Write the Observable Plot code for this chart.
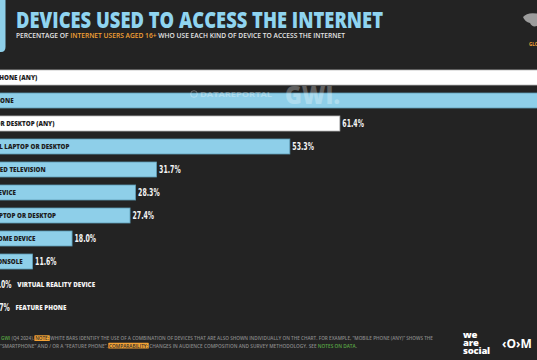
<!DOCTYPE html>
<html><head><meta charset="utf-8">
<script src="https://cdn.jsdelivr.net/npm/d3@7"></script>
<script src="https://cdn.jsdelivr.net/npm/@observablehq/plot@0.6"></script>
<style>
html,body{margin:0;padding:0;background:#232323;overflow:hidden}
#root{position:relative;width:537px;height:360px;overflow:hidden;background:#232323;font-family:"Open Sans",sans-serif}
#chart{position:absolute;left:0;top:60px;width:537px;height:260px;overflow:hidden}
#overlay{position:absolute;left:0;top:0;pointer-events:none}
</style></head>
<body><div id="root"><div id="chart"></div><svg id="overlay" width="537" height="360" xmlns="http://www.w3.org/2000/svg"></svg></div>
<script>
// ---- data ----
const categories = [
  "MOBILE PHONE (ANY)",
  "SMARTPHONE",
  "LAPTOP OR DESKTOP (ANY)",
  "PERSONAL LAPTOP OR DESKTOP",
  "CONNECTED TELEVISION",
  "TABLET DEVICE",
  "WORK LAPTOP OR DESKTOP",
  "SMART HOME DEVICE",
  "GAMES CONSOLE",
  "VIRTUAL REALITY DEVICE",
  "FEATURE PHONE"
];
const values = [96.3, 95.9, 61.4, 53.3, 31.7, 28.3, 27.4, 18.0, 11.6, 5.0, 4.7];
const barKinds = ["any", "single", "any", "single", "single", "single", "single", "single", "single", "single", "single"];

const title = "DEVICES USED TO ACCESS THE INTERNET";
const subtitleParts = ["PERCENTAGE OF ", "INTERNET USERS AGED 16+", " WHO USE EACH KIND OF DEVICE TO ACCESS THE INTERNET"];
const footLine1 = ["GWI", " (Q4 2024). ", "NOTE:", " WHITE BARS IDENTIFY THE USE OF A COMBINATION OF DEVICES THAT ARE ALSO SHOWN INDIVIDUALLY ON THE CHART. FOR EXAMPLE, \u201CMOBILE PHONE (ANY)\u201D SHOWS THE"];
const footLine2 = ["\u201CSMARTPHONE\u201D AND / OR A \u201CFEATURE PHONE\u201D. ", "COMPARABILITY:", " CHANGES IN AUDIENCE COMPOSITION AND SURVEY METHODOLOGY. SEE ", "NOTES ON DATA", "."];

const data = categories.map((c, i) => ({category: c, value: values[i], kind: barKinds[i]}));

const BLUE = "#8ecfe9";
const ORANGE = "#f4a235";
const GREEN = "#5aa845";
const labelFont = "'Open Sans', sans-serif";
const valueFont = "'DejaVu Sans', sans-serif";

const chart = Plot.plot({
  width: 537,
  height: 260,
  marginLeft: 0, marginRight: 0, marginTop: 0, marginBottom: 0,
  x: {domain: [0, 100], range: [-39, 578], axis: null},
  y: {domain: categories, range: [10, 255.5], paddingInner: 0.33, paddingOuter: 0, axis: null},
  style: {background: "transparent", overflow: "hidden"},
  marks: [
    Plot.barX(data, {
      x: "value", y: "category",
      fill: d => d.kind === "any" ? "#ffffff" : BLUE,
      stroke: d => d.kind === "any" ? "#b9b9b9" : "#5d9bb3",
      strokeWidth: 0.8,
      clip: true
    }),
    Plot.text(data.filter(d => d.value > 10), {
      x: d => 0, y: "category", text: "category",
      textAnchor: "start", dx: 8,
      fill: "#1d1d1d", fontSize: 6.2, fontWeight: 800, fontFamily: labelFont,
      clip: true
    }),
    Plot.text(data, {
      x: "value", y: "category", text: d => d.value.toFixed(1) + "%",
      textAnchor: "start", dx: 2,
      fill: "#f4f4f4", fontSize: 10, fontWeight: "bold", fontFamily: valueFont,
      clip: true
    }),
    Plot.text(data.filter(d => d.value <= 10), {
      x: "value", y: "category", text: "category",
      textAnchor: "start", dx: 25,
      fill: "#f4f4f4", fontSize: 6.2, fontWeight: 800, fontFamily: labelFont,
      clip: true
    })
  ]
});
document.getElementById("chart").appendChild(chart);
// condensed look for the value labels
chart.querySelectorAll("text").forEach(t => {
  const s = t.textContent.trim();
  if (!/%$/.test(s)) return;
  let w = 0;
  try { w = t.getComputedTextLength(); } catch (e) { w = 0; }
  if (!w) w = s.length * 5.9;
  t.setAttribute("textLength", (w * 0.62).toFixed(2));
  t.setAttribute("lengthAdjust", "spacingAndGlyphs");
  t.querySelectorAll("tspan").forEach(sp => {
    sp.setAttribute("textLength", (w * 0.62).toFixed(2));
    sp.setAttribute("lengthAdjust", "spacingAndGlyphs");
  });
});

// ---- header, watermark and footer ----
const NS = "http://www.w3.org/2000/svg";
const ov = document.getElementById("overlay");
function el(tag, attrs, parent = ov) {
  const e = document.createElementNS(NS, tag);
  for (const k in attrs) e.setAttribute(k, attrs[k]);
  parent.appendChild(e);
  return e;
}
function textLine(x, y, parts, colors, attrs) {
  const t = el("text", Object.assign({x, y, "font-family": labelFont}, attrs));
  const spans = parts.map((p, i) => {
    const s = el("tspan", {fill: colors[i]}, t);
    s.textContent = p;
    return s;
  });
  return {t, spans};
}

el("path", {d: "M0,0 H5.5 V47 Q5.5,52 1,52 H0 Z", fill: BLUE});
const tt = el("text", {x: 16, y: 28, "font-size": 22.5, "font-weight": 800, fill: "#8fd4f0",
  "font-family": labelFont, textLength: 367, lengthAdjust: "spacingAndGlyphs"});
tt.textContent = title;
textLine(16, 37.5, subtitleParts, ["#e6e6e6", ORANGE, "#e6e6e6"],
  {"font-size": 6.3, "font-weight": 600, textLength: 329, lengthAdjust: "spacingAndGlyphs"});

// top-right map icon + label
el("path", {d: "M523,17 Q527,12 537,13.5 L537,26 Q532,27.5 530,23 Q525,22 523,17 Z", fill: "#9c9c9c"});
const gl = el("text", {x: 529, y: 46, "font-size": 4.5, "font-weight": 700, fill: ORANGE, "font-family": labelFont});
gl.textContent = "GLOBAL";

// watermark
el("circle", {cx: 194, cy: 94, r: 3.3, fill: "none", stroke: "#ffffff", "stroke-width": 1, opacity: 0.3});
const wm1 = el("text", {x: 200, y: 97, "font-size": 7, "font-weight": 700, fill: "#ffffff", opacity: 0.3,
  "font-family": labelFont, textLength: 72, lengthAdjust: "spacingAndGlyphs"});
wm1.textContent = "DATAREPORTAL";
const wm2 = el("text", {x: 285, y: 104, "font-size": 24, "font-weight": 800, fill: "#ffffff", opacity: 0.28,
  "font-family": labelFont, textLength: 55, lengthAdjust: "spacingAndGlyphs"});
wm2.textContent = "GWI.";

// footer
const hl = el("g", {});
const f1 = textLine(1, 340, footLine1, [GREEN, "#8a8a8a", "#2a2a2a", "#8a8a8a"],
  {"font-size": 4.6, "font-weight": 600, textLength: 432, lengthAdjust: "spacingAndGlyphs"});
const f2 = textLine(0, 347.5, footLine2, ["#8a8a8a", "#2a2a2a", "#8a8a8a", GREEN, "#8a8a8a"],
  {"font-size": 4.6, "font-weight": 600, textLength: 357, lengthAdjust: "spacingAndGlyphs"});
for (const s of [f1.spans[2], f2.spans[1]]) {
  const b = s.getBBox();
  el("rect", {x: b.x - 0.8, y: b.y + 0.3, width: b.width + 1.6, height: b.height - 0.3, fill: ORANGE, rx: 0.6}, hl);
}

// logos
[["we", 338], ["are", 345.5], ["social", 353.5]].forEach(([w, y]) => {
  const t = el("text", {x: 463, y, "font-size": 9.5, "font-weight": 800, fill: "#ffffff", "font-family": labelFont,
    "letter-spacing": -0.2});
  t.textContent = w;
});
const mw = el("text", {x: 502, y: 348, "font-size": 12, "font-weight": 700, fill: "#ffffff", "font-family": labelFont});
mw.textContent = "\u2039O\u203AM";
</script>
</body></html>
